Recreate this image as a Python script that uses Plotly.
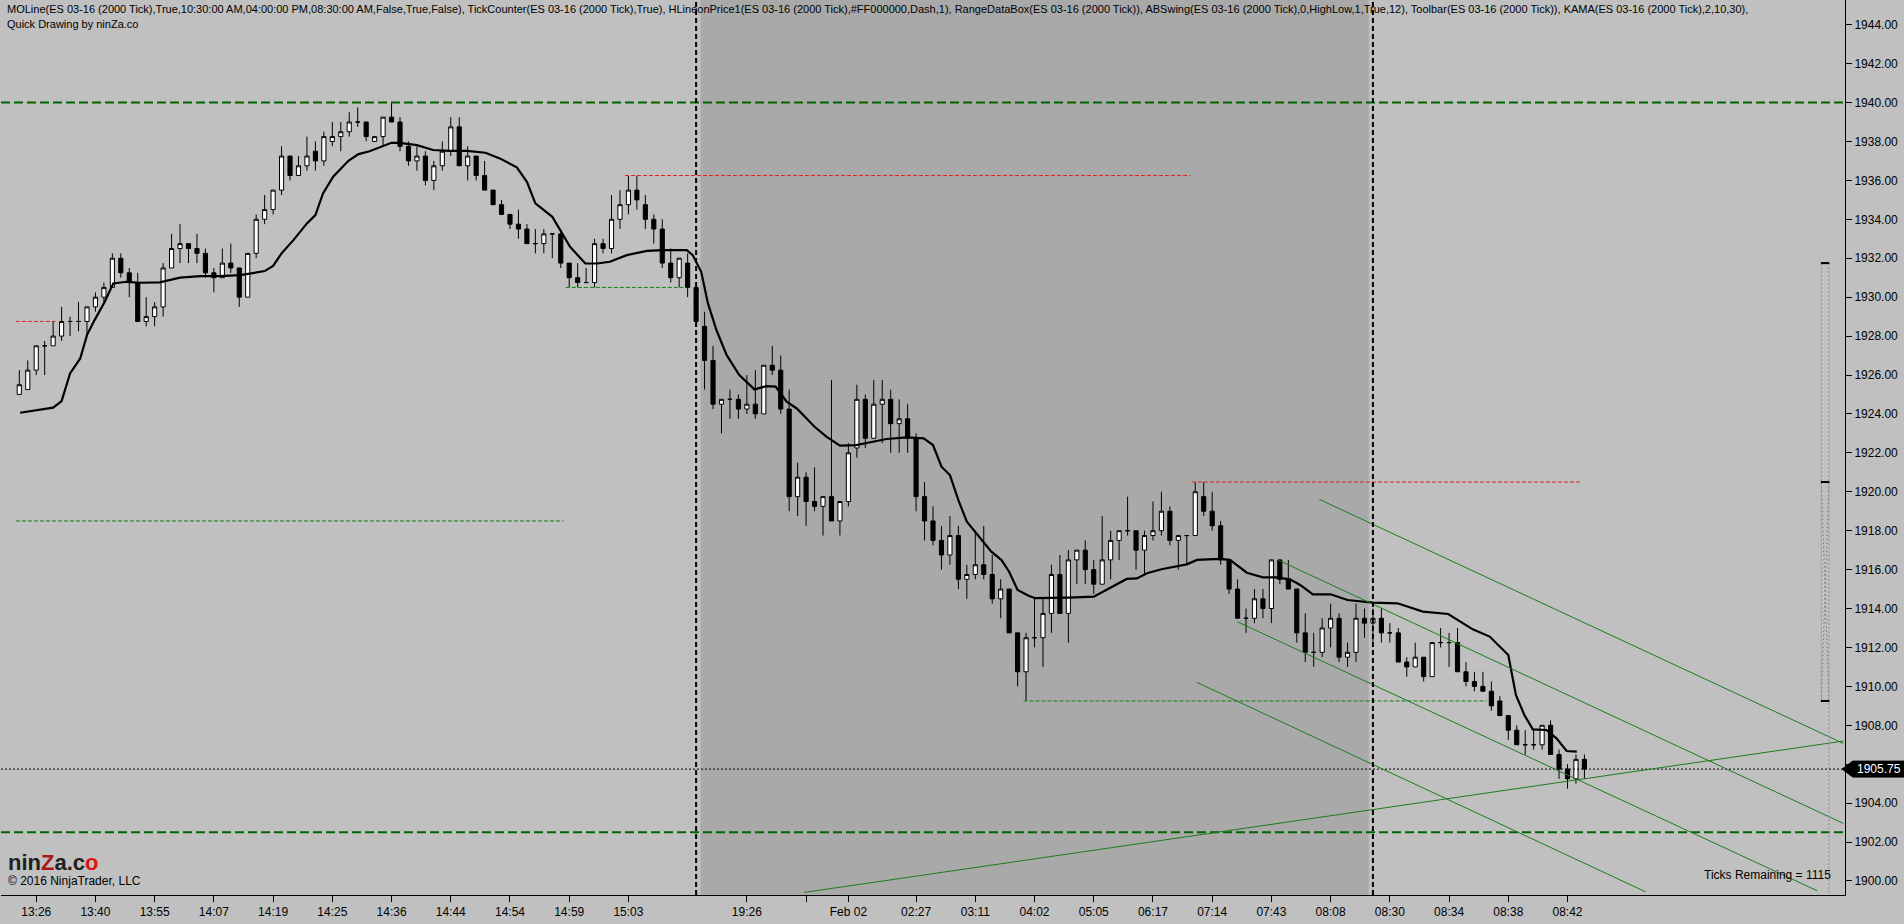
import plotly.graph_objects as go

bar_open = [
    1925.0, 1925.25, 1926.25, 1927.5, 1927.5, 1928.0, 1928.75, 1928.75, 1928.75, 1929.5,
    1930.0, 1930.5, 1932.0, 1931.25, 1930.75, 1928.75, 1929.0, 1929.5, 1931.5, 1932.5,
    1932.75, 1932.5, 1932.25, 1931.25, 1931.0, 1931.75, 1931.5, 1930.0, 1932.25, 1934.0,
    1934.5, 1935.5, 1937.25, 1936.25, 1936.75, 1937.5, 1937.0, 1938.0, 1938.25, 1938.5,
    1939.0, 1939.0, 1938.0, 1938.25, 1939.25, 1939.0, 1937.75, 1937.0, 1937.25, 1936.0,
    1936.75, 1937.5, 1938.75, 1936.75, 1937.25, 1936.25, 1935.5, 1934.75, 1934.25, 1933.75,
    1933.5, 1932.75, 1932.75, 1933.25, 1933.25, 1931.75, 1931.0, 1930.75, 1930.75, 1932.75,
    1932.5, 1934.0, 1934.75, 1935.5, 1934.75, 1934.0, 1933.5, 1931.75, 1931.0, 1931.75,
    1930.5, 1928.5, 1926.75, 1924.5, 1924.75, 1924.75, 1924.25, 1924.5, 1924.0, 1926.5,
    1926.25, 1924.25, 1919.75, 1920.75, 1919.5, 1919.25, 1919.75, 1918.5, 1919.5, 1922.25,
    1924.75, 1922.75, 1924.5, 1924.75, 1923.5, 1923.75, 1922.75, 1919.75, 1918.5, 1917.5,
    1916.75, 1917.75, 1915.5, 1915.75, 1916.25, 1915.75, 1914.5, 1915.0, 1912.75, 1910.75,
    1912.5, 1912.5, 1913.75, 1915.75, 1913.75, 1916.5, 1917.0, 1916.0, 1915.25, 1916.5,
    1917.5, 1918.0, 1918.0, 1917.0, 1917.75, 1918.0, 1919.0, 1917.5, 1917.75, 1917.75,
    1919.75, 1919.0, 1918.25, 1916.5, 1915.0, 1913.5, 1913.5, 1914.5, 1914.0, 1916.5,
    1915.5, 1915.0, 1912.75, 1911.75, 1911.75, 1913.0, 1913.5, 1911.5, 1911.75, 1913.5,
    1913.25, 1913.5, 1912.75, 1912.75, 1911.25, 1911.0, 1911.5, 1910.5, 1912.25, 1912.25,
    1912.25, 1910.75, 1910.25, 1910.0, 1909.75, 1909.25, 1908.5, 1907.75, 1907.0, 1907.0,
    1907.0, 1908.0, 1906.5, 1905.75, 1905.25, 1906.25,
]
bar_high = [
    1926.25, 1926.75, 1927.5, 1927.75, 1928.75, 1929.5, 1929.0, 1929.75, 1929.5, 1930.25,
    1930.75, 1932.25, 1932.25, 1931.5, 1931.25, 1930.0, 1929.75, 1931.75, 1933.25, 1933.75,
    1932.75, 1933.25, 1932.5, 1931.5, 1932.5, 1932.75, 1931.5, 1932.25, 1934.25, 1935.25,
    1935.5, 1937.75, 1937.25, 1937.25, 1938.25, 1938.0, 1938.5, 1939.0, 1939.0, 1939.5,
    1939.75, 1939.0, 1938.25, 1939.25, 1940.0, 1939.25, 1938.0, 1937.75, 1937.5, 1937.0,
    1938.0, 1939.25, 1939.25, 1937.75, 1937.25, 1937.0, 1935.5, 1935.0, 1934.25, 1934.5,
    1933.75, 1933.5, 1933.5, 1933.25, 1933.5, 1931.75, 1931.75, 1931.5, 1933.0, 1933.0,
    1935.25, 1935.5, 1936.25, 1936.25, 1935.25, 1934.25, 1934.0, 1932.5, 1932.0, 1932.25,
    1930.5, 1929.25, 1927.5, 1924.75, 1925.25, 1925.0, 1926.0, 1926.25, 1926.5, 1927.5,
    1927.0, 1925.25, 1921.5, 1921.0, 1921.25, 1919.75, 1925.75, 1919.5, 1922.5, 1925.5,
    1925.0, 1925.75, 1925.75, 1925.25, 1924.75, 1924.5, 1923.0, 1920.5, 1919.25, 1918.25,
    1918.75, 1918.25, 1916.25, 1918.0, 1918.25, 1916.75, 1915.5, 1915.0, 1912.75, 1912.75,
    1914.5, 1914.5, 1916.25, 1916.75, 1917.0, 1917.0, 1917.5, 1916.5, 1918.75, 1918.0,
    1918.0, 1919.75, 1918.0, 1918.0, 1919.5, 1920.0, 1919.25, 1917.75, 1917.75, 1920.5,
    1920.5, 1920.0, 1918.5, 1916.5, 1915.5, 1914.0, 1915.0, 1915.0, 1916.5, 1916.5,
    1916.5, 1915.0, 1913.75, 1912.75, 1913.5, 1914.25, 1913.75, 1912.25, 1914.25, 1914.0,
    1914.0, 1914.0, 1913.25, 1913.0, 1911.5, 1912.25, 1911.5, 1912.25, 1913.0, 1912.75,
    1913.0, 1911.25, 1910.75, 1910.75, 1910.25, 1909.5, 1908.5, 1908.0, 1907.75, 1907.75,
    1908.0, 1908.25, 1906.75, 1906.0, 1906.5, 1906.5,
]
bar_low = [
    1925.0, 1925.25, 1926.0, 1926.0, 1927.5, 1927.75, 1928.0, 1928.25, 1928.0, 1929.25,
    1929.75, 1930.5, 1931.0, 1930.0, 1928.75, 1928.5, 1928.5, 1929.0, 1931.5, 1931.75,
    1931.75, 1931.75, 1931.0, 1930.25, 1931.0, 1931.25, 1929.5, 1930.0, 1932.0, 1933.75,
    1934.25, 1935.25, 1936.0, 1936.25, 1936.5, 1936.5, 1936.75, 1937.75, 1937.5, 1938.25,
    1938.75, 1938.0, 1938.0, 1937.75, 1939.0, 1937.5, 1936.75, 1936.5, 1935.75, 1935.5,
    1936.5, 1937.25, 1936.75, 1936.0, 1936.0, 1935.5, 1934.75, 1934.25, 1933.5, 1933.0,
    1932.75, 1932.25, 1932.25, 1932.0, 1931.5, 1930.5, 1930.5, 1930.75, 1930.5, 1932.25,
    1932.25, 1933.5, 1934.25, 1934.5, 1933.5, 1932.75, 1931.5, 1930.75, 1930.5, 1930.0,
    1928.5, 1925.25, 1924.25, 1923.0, 1923.75, 1923.75, 1924.0, 1923.75, 1924.0, 1926.0,
    1924.0, 1919.0, 1918.75, 1918.25, 1919.0, 1917.75, 1918.5, 1917.75, 1919.25, 1921.75,
    1922.25, 1922.75, 1922.5, 1922.0, 1922.0, 1922.0, 1919.0, 1917.5, 1917.25, 1916.0,
    1916.25, 1915.0, 1914.5, 1915.5, 1915.5, 1914.25, 1913.5, 1912.75, 1910.0, 1909.25,
    1912.0, 1911.0, 1912.75, 1913.75, 1912.25, 1915.25, 1915.25, 1914.75, 1915.25, 1915.5,
    1916.5, 1917.75, 1916.0, 1915.75, 1917.5, 1917.75, 1917.25, 1916.0, 1916.25, 1917.75,
    1918.75, 1918.0, 1916.25, 1914.75, 1913.5, 1912.75, 1913.25, 1913.5, 1913.25, 1915.25,
    1915.0, 1912.25, 1911.25, 1911.0, 1911.5, 1912.0, 1911.25, 1911.0, 1911.25, 1912.5,
    1912.25, 1912.25, 1912.25, 1911.25, 1910.5, 1911.0, 1910.25, 1910.5, 1912.0, 1911.0,
    1910.75, 1910.0, 1909.75, 1909.75, 1908.75, 1908.5, 1907.25, 1907.0, 1906.5, 1906.75,
    1906.75, 1906.5, 1905.25, 1904.75, 1905.0, 1905.25,
]
bar_close = [
    1925.5, 1926.25, 1927.5, 1927.5, 1928.0, 1928.75, 1928.75, 1928.75, 1929.5, 1930.0,
    1930.5, 1932.0, 1931.25, 1930.75, 1928.75, 1929.0, 1929.5, 1931.5, 1932.5, 1932.75,
    1932.5, 1932.25, 1931.25, 1931.0, 1931.75, 1931.5, 1930.0, 1932.25, 1934.0, 1934.5,
    1935.5, 1937.25, 1936.25, 1936.75, 1937.25, 1937.0, 1938.25, 1938.25, 1938.5, 1939.0,
    1939.0, 1938.25, 1938.25, 1939.25, 1939.0, 1937.75, 1937.0, 1937.25, 1936.0, 1936.75,
    1937.5, 1938.75, 1936.75, 1937.25, 1936.25, 1935.5, 1934.75, 1934.25, 1933.75, 1933.5,
    1932.75, 1932.75, 1933.25, 1933.25, 1931.75, 1931.0, 1930.75, 1930.75, 1932.75, 1932.5,
    1934.0, 1934.75, 1935.5, 1935.0, 1934.0, 1933.5, 1931.75, 1931.0, 1932.0, 1930.5,
    1928.75, 1926.75, 1924.5, 1924.75, 1924.75, 1924.25, 1924.5, 1924.0, 1926.5, 1926.25,
    1924.25, 1919.75, 1920.75, 1919.5, 1919.25, 1919.75, 1918.5, 1919.5, 1922.0, 1924.75,
    1922.75, 1924.5, 1924.75, 1923.5, 1923.75, 1922.75, 1919.75, 1918.5, 1917.5, 1916.75,
    1917.75, 1915.5, 1915.75, 1916.25, 1915.75, 1914.5, 1915.0, 1912.75, 1910.75, 1912.5,
    1912.5, 1913.75, 1915.75, 1913.75, 1916.5, 1917.0, 1916.0, 1915.25, 1916.5, 1917.5,
    1918.0, 1918.0, 1917.0, 1917.75, 1918.0, 1919.0, 1917.5, 1917.75, 1917.75, 1920.0,
    1919.0, 1918.25, 1916.5, 1915.0, 1913.5, 1913.5, 1914.5, 1914.0, 1916.5, 1915.5,
    1915.0, 1912.75, 1911.75, 1911.75, 1913.0, 1913.5, 1911.5, 1911.75, 1913.5, 1913.25,
    1913.5, 1912.75, 1912.75, 1911.25, 1911.0, 1911.5, 1910.5, 1912.25, 1912.25, 1912.25,
    1910.75, 1910.25, 1910.0, 1909.75, 1909.0, 1908.5, 1907.75, 1907.0, 1907.0, 1907.0,
    1908.0, 1906.5, 1905.75, 1905.25, 1906.25, 1905.75,
]
bars = list(range(len(bar_close)))

# KAMA(2,10,30) line, sampled along the drawn curve (bar position, price)
kama_x = [
    0.1, 4, 5, 6, 7.2, 8, 8.9, 10.1, 11.1, 12.7, 14.3, 16.6, 19, 21.4, 23.7, 26.1, 29, 30, 31,
    32.4, 34, 35, 35.9, 37.1, 38.9, 40.1, 41.4, 42.4, 44, 45,
    47, 48.9, 50.9, 52.9, 55.1, 56.8, 58.8, 60, 61, 63, 63.9, 65.1, 66.9, 68.3, 69.8, 71.8,
    74.2, 76.1, 78.9, 79.6, 80.6, 81.4, 82.4,
    83.6, 85.1, 86.9, 88.3, 89.4, 90.7, 91.9, 94, 95.4, 97, 98.9, 100.9, 102.5, 104.9, 106.9,
    108, 109, 110, 111, 112, 113.1, 114.9, 116.1, 117, 118, 119.3,
    120.1, 122.1, 124, 127, 128.9, 130.9, 132.1, 133.3, 135, 138, 139.2, 141.9, 143.1, 145.1,
    147, 148.6, 150.2,
    151.4, 152.9, 155, 157, 160, 162.9, 165.9, 168.9, 171.8, 173.8, 176, 176.9, 177.9, 178.9,
    180.5, 181.7, 182.9, 184.1,
]
kama_y = [
    1924.06, 1924.32, 1924.66, 1926.08, 1926.85, 1928.05, 1928.82, 1929.76, 1930.7, 1930.79,
    1930.74, 1930.76, 1931.0, 1931.08, 1931.08, 1931.13, 1931.34, 1931.61, 1932.25, 1932.93,
    1933.79, 1934.22, 1935.33, 1936.19, 1937.01, 1937.35, 1937.5, 1937.68, 1937.93, 1937.93,
    1937.81, 1937.56, 1937.52, 1937.52, 1937.42, 1937.13, 1936.67, 1935.93, 1934.82, 1934.13,
    1933.45, 1932.59, 1931.73, 1931.73, 1931.82, 1932.16, 1932.38, 1932.42, 1932.42, 1932.16,
    1931.3, 1929.68, 1928.31,
    1927.03, 1926.0, 1925.26, 1925.43, 1925.4, 1924.63, 1924.28, 1923.34, 1922.83, 1922.37,
    1922.4, 1922.57, 1922.71, 1922.79, 1922.74, 1922.4, 1921.29, 1920.86, 1919.57, 1918.46,
    1917.86, 1916.92, 1916.49, 1915.89, 1914.95, 1914.66,
    1914.53, 1914.53, 1914.56, 1914.61, 1915.04, 1915.52, 1915.55, 1915.81, 1916.02, 1916.27,
    1916.5, 1916.55, 1916.5, 1915.84, 1915.6, 1915.6, 1915.5,
    1915.21, 1914.73, 1914.73, 1914.44, 1914.3, 1914.27, 1913.84, 1913.72, 1912.93, 1912.56,
    1911.61, 1909.56, 1908.53, 1907.79, 1907.76, 1907.33, 1906.68, 1906.65,
]

# time axis labels and the bars they sit on
tick_bars = [2, 9, 16, 23, 30, 37, 44, 51, 58, 65, 72, 86, 93, 98, 106, 113, 120, 127, 134,
             141, 148, 155, 162, 169, 176, 183]
tick_text = ["13:26", "13:40", "13:55", "14:07", "14:19", "14:25", "14:36", "14:44", "14:54",
             "14:59", "15:03", "19:26", "", "Feb 02", "02:27", "03:11", "04:02", "05:05",
             "06:17", "07:14", "07:43", "08:08", "08:30", "08:34", "08:38", "08:42"]
price_ticks = list(range(1900, 1946, 2))

# session break bars (MOLine)
session_bars = [80, 160]

# swing levels: (start bar, end bar, price)
swing_highs = [(-0.4, 4.3, 1928.75), (71.6, 138.4, 1936.25), (138.6, 184.5, 1920.5)]
swing_lows = [(-0.4, 64.3, 1918.5), (64.6, 78.5, 1930.5), (118.7, 173.45, 1909.25)]

# horizontal price lines
hline_levels = [1940.0, 1902.5]
last_price = 1905.75

# drawn trend lines: (bar0, price0, bar1, price1)
trend_lines = [
    (153.66, 1919.61, 215.6, 1907.07),
    (148.8, 1916.49, 215.6, 1902.96),
    (143.97, 1913.32, 212.5, 1899.5),
    (139.17, 1910.21, 192.2, 1899.45),
    (92.75, 1899.41, 215.6, 1907.19),
]

# RangeDataBox levels
range_top, range_mid, range_bottom = 1931.75, 1920.5, 1909.25

X_RANGE = [-2.163, 215.80]
Y_RANGE = [1899.28, 1945.269]
FONT = "Liberation Sans, Arial, sans-serif"


def build_figure():
    """Candlestick chart in NinjaTrader style"""
    fig = go.Figure()

    fig.add_trace(go.Candlestick(
        x=bars, open=bar_open, high=bar_high, low=bar_low, close=bar_close,
        increasing=dict(line=dict(color="black", width=1), fillcolor="white"),
        decreasing=dict(line=dict(color="black", width=1), fillcolor="black"),
        whiskerwidth=0, hoverinfo="skip", showlegend=False
    ))

    fig.add_trace(go.Scatter(
        x=kama_x, y=kama_y, mode="lines",
        line=dict(color="black", width=2.2),
        hoverinfo="skip", showlegend=False
    ))

    shapes = []
    # darker overnight session
    shapes.append(dict(type="rect", xref="x", yref="paper", x0=80.5, x1=159.5, y0=0, y1=1,
                       fillcolor="#A9A9A9", line=dict(width=0), layer="below"))

    for lvl in hline_levels:
        shapes.append(dict(type="line", xref="paper", yref="y", x0=0, x1=1, y0=lvl, y1=lvl,
                           line=dict(color="#006400", width=2, dash="9px,4px")))
    shapes.append(dict(type="line", xref="paper", yref="y", x0=0, x1=1,
                       y0=last_price, y1=last_price,
                       line=dict(color="black", width=1, dash="2px,2px")))

    for b0, b1, p in swing_highs:
        shapes.append(dict(type="line", x0=b0, x1=b1, y0=p, y1=p,
                           line=dict(color="#E02020", width=1, dash="4px,2px")))
    for b0, b1, p in swing_lows:
        shapes.append(dict(type="line", x0=b0, x1=b1, y0=p, y1=p,
                           line=dict(color="#108010", width=1, dash="4px,2px")))

    for b0, p0, b1, p1 in trend_lines:
        shapes.append(dict(type="line", x0=b0, x1=b1, y0=p0, y1=p1,
                           line=dict(color="#1F7A1F", width=1)))

    for b in session_bars:
        shapes.append(dict(type="line", xref="x", yref="paper", x0=b, x1=b, y0=0, y1=1,
                           line=dict(color="black", width=2, dash="5px,3px")))

    # RangeDataBox on the right
    bx0, bx1 = 213.0, 213.9
    box_line = dict(color="#8A8A8A", width=1, dash="2px,2px")
    shapes.append(dict(type="line", x0=bx0, x1=bx0, y0=range_top, y1=range_bottom, line=box_line))
    shapes.append(dict(type="line", x0=bx1, x1=bx1, y0=range_top, y1=Y_RANGE[0], line=box_line))
    shapes.append(dict(type="line", x0=bx0, x1=bx1, y0=range_mid, y1=range_bottom, line=box_line))
    shapes.append(dict(type="line", x0=bx1, x1=bx0, y0=range_mid, y1=range_bottom, line=box_line))
    for lvl in [range_top, range_mid, range_bottom]:
        shapes.append(dict(type="line", x0=bx0 - 0.05, x1=bx1 + 0.05, y0=lvl, y1=lvl,
                           line=dict(color="black", width=2)))

    # last price marker on the price axis
    py = (last_price - Y_RANGE[0]) / (Y_RANGE[1] - Y_RANGE[0])
    hh = 0.0089
    shapes.append(dict(type="path", xref="paper", yref="paper",
                       path=f"M 0.9984,{py} L 1.0042,{py + hh} L 1.0325,{py + hh} "
                            f"L 1.0325,{py - hh} L 1.0042,{py - hh} Z",
                       fillcolor="black", line=dict(color="black", width=1)))

    annotations = [
        dict(text="MOLine(ES 03-16 (2000 Tick),True,10:30:00 AM,04:00:00 PM,08:30:00 AM,False,True,False), "
                  "TickCounter(ES 03-16 (2000 Tick),True), HLineonPrice1(ES 03-16 (2000 Tick),#FF000000,Dash,1), "
                  "RangeDataBox(ES 03-16 (2000 Tick)), ABSwing(ES 03-16 (2000 Tick),0,HighLow,1,True,12), "
                  "Toolbar(ES 03-16 (2000 Tick)), KAMA(ES 03-16 (2000 Tick),2,10,30),",
             x=0.002, y=1 - 9 / 895, xanchor="left", yanchor="middle"),
        dict(text="Quick Drawing by ninZa.co", x=0.002, y=1 - 24 / 895,
             xanchor="left", yanchor="middle"),
        dict(text="<b>nin<span style='color:#A81818'>Z</span>a.c<span style='color:#E01010'>o</span></b>",
             x=0.0025, y=1 - 862 / 895, xanchor="left", yanchor="middle",
             font=dict(family=FONT, size=22, color="#202020")),
        dict(text="© 2016 NinjaTrader, LLC", x=0.0025, y=1 - 881 / 895,
             xanchor="left", yanchor="middle", font=dict(family=FONT, size=12, color="black")),
        dict(text="Ticks Remaining = 1115", x=0.9935, y=1 - 875 / 895,
             xanchor="right", yanchor="middle", font=dict(family=FONT, size=12, color="black")),
        dict(text=f"{last_price:.2f}", x=1.0185, y=py, xanchor="center", yanchor="middle",
             font=dict(family=FONT, size=12, color="white")),
    ]
    for a in annotations:
        a.setdefault("xref", "paper")
        a.setdefault("yref", "paper")
        a.setdefault("showarrow", False)
        a.setdefault("font", dict(family=FONT, size=11, color="black"))

    # the last price marker covers the 1906 label
    price_text = ["" if p == 1906 else f"{p:.2f}" for p in price_ticks]

    fig.update_layout(
        width=1904, height=924,
        margin=dict(l=1, r=59, t=0, b=29),
        paper_bgcolor="#C0C0C0",
        plot_bgcolor="#C0C0C0",
        shapes=shapes,
        annotations=annotations,
        showlegend=False,
        font=dict(family=FONT, size=12, color="black"),
        xaxis=dict(
            range=X_RANGE, tickmode="array", tickvals=tick_bars, ticktext=tick_text,
            ticks="outside", ticklen=6, tickcolor="black", showline=True, linecolor="black",
            linewidth=1, showgrid=False, zeroline=False, rangeslider=dict(visible=False),
            automargin=False, fixedrange=True
        ),
        yaxis=dict(
            range=Y_RANGE, side="right", tickmode="array", tickvals=price_ticks,
            ticktext=price_text,
            ticks="outside", ticklen=6, tickcolor="black", showline=True, linecolor="black",
            linewidth=1, showgrid=False, zeroline=False, automargin=False, fixedrange=True
        ),
    )
    return fig


fig = build_figure()
fig.write_html("out.html", config={"displayModeBar": False},
               post_script="document.body.style.margin='0';")
